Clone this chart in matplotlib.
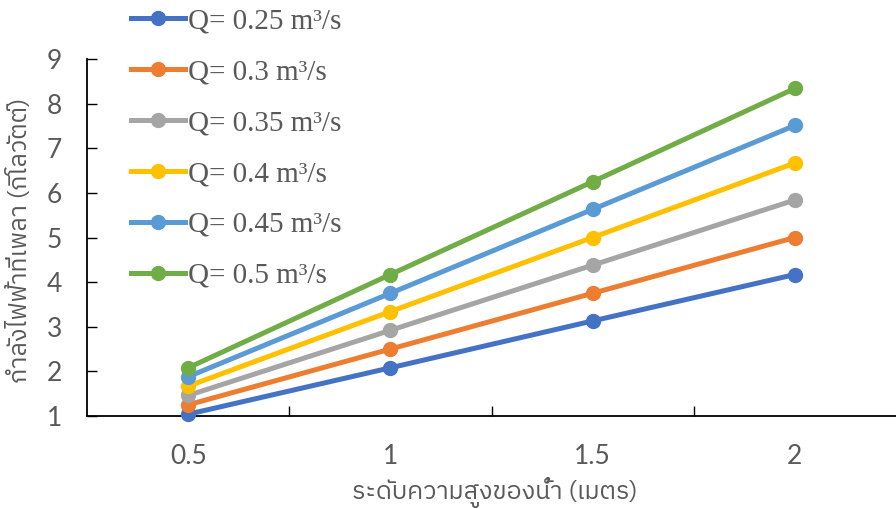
import matplotlib
matplotlib.use("Agg")
import matplotlib.pyplot as plt
from matplotlib import font_manager
from matplotlib.ft2font import FT2Font

heights = ["0.5", "1", "1.5", "2"]
labels = ["Q= 0.25 m³/s", "Q= 0.3 m³/s", "Q= 0.35 m³/s", "Q= 0.4 m³/s", "Q= 0.45 m³/s", "Q= 0.5 m³/s"]
q025 = [1.04, 2.08, 3.13, 4.17]
q030 = [1.25, 2.50, 3.75, 5.00]
q035 = [1.46, 2.92, 4.38, 5.84]
q040 = [1.67, 3.34, 5.00, 6.67]
q045 = [1.88, 3.75, 5.63, 7.51]
q050 = [2.08, 4.17, 6.25, 8.34]
series = [q025, q030, q035, q040, q045, q050]
colors = ["#4472C4", "#ED7D31", "#A5A5A5", "#FFC000", "#5B9BD5", "#70AD47"]
xlabel = "ระดับความสูงของน้ำ (เมตร)"
ylabel = "กำลังไฟฟ้าที่เพลา (กิโลวัตต์)"

# find a font with Thai glyphs
names = []
for f in font_manager.fontManager.ttflist:
    try:
        ft = FT2Font(f.fname)
        if ft.get_char_index(ord("ก")) and ft.get_char_index(ord("ำ")):
            names.append(f.name)
    except Exception:
        pass
pref = [n for n in names if "Sans" in n] + names
thai_font = pref[0] if pref else "DejaVu Sans"

fig = plt.figure(figsize=(8.96, 5.09), dpi=100)
ax = fig.add_axes([87/896, 93/509, 809/896, 357/509])

x = list(range(len(heights)))
for s, c, l in zip(series, colors, labels):
    ax.plot(x, s, color=c, lw=3.6, marker="o", ms=10, label=l, clip_on=False, zorder=3)

ax.set_xlim(-0.5, 3.5)
ax.set_ylim(1, 9)
ax.set_yticks(range(1, 10))
ax.set_xticks([0.5, 1.5, 2.5])
ax.set_xticks(x, minor=True)
ax.set_xticklabels([], minor=False)
ax.set_xticklabels(heights, minor=True)
ax.tick_params(axis="x", which="major", direction="in", length=7, width=1, color="#000000")
ax.tick_params(axis="x", which="minor", length=0, pad=20, labelsize=19, labelcolor="#595959")
ax.tick_params(axis="y", direction="in", length=7, width=1, pad=18, labelsize=19, labelcolor="#595959")
for lab in ax.get_xticklabels(minor=True) + ax.get_yticklabels():
    lab.set_family(["Lato", "DejaVu Sans"])
for sp in ["top", "right"]:
    ax.spines[sp].set_visible(False)
for sp in ["left", "bottom"]:
    ax.spines[sp].set_color("#000000")
    ax.spines[sp].set_linewidth(1.3)

fig.text(495/896, 1 - 492/509, xlabel, ha="center", va="center", fontsize=18,
         color="#595959", family=[thai_font, "DejaVu Sans"])
fig.text(20/896, 1 - 240/509, ylabel, ha="center", va="center", fontsize=18,
         color="#595959", rotation=90, family=[thai_font, "DejaVu Sans"])

leg = ax.legend(loc="upper left", bbox_to_anchor=(128/896, 1 - 5/509), bbox_transform=fig.transFigure,
                frameon=False, prop={"family": "Liberation Serif", "size": 21},
                labelspacing=0.84, handlelength=1.85, handletextpad=0.1, borderaxespad=0.0,
                borderpad=0.1)
for t in leg.get_texts():
    t.set_color("#595959")

fig.savefig("out.png", dpi=100)
